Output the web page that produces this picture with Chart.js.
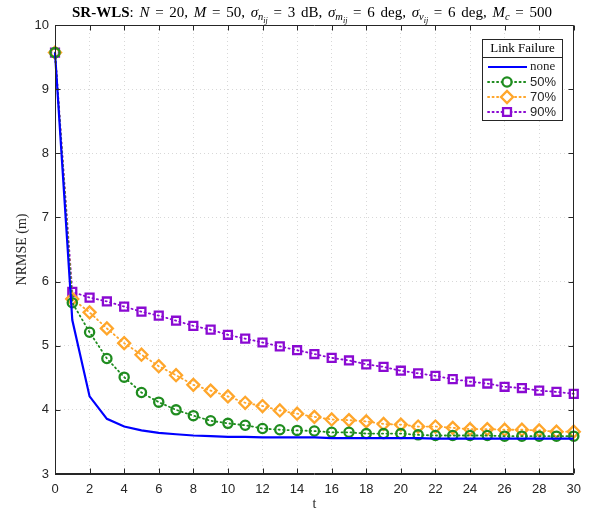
<!DOCTYPE html>
<html><head><meta charset="utf-8">
<script src="https://cdn.jsdelivr.net/npm/chart.js@4.4.1/dist/chart.umd.min.js"></script>
<style>html,body{margin:0;padding:0;background:#fff}canvas{display:block}</style>
</head><body>
<canvas id="c" width="589" height="510"></canvas>
<script>
// ---- data ----
const tValues = [0,1,2,3,4,5,6,7,8,9,10,11,12,13,14,15,16,17,18,19,20,21,22,23,24,25,26,27,28,29,30];
const noneValues = [9.57,5.40,4.21,3.86,3.74,3.68,3.64,3.62,3.60,3.59,3.58,3.58,3.57,3.57,3.57,3.57,3.56,3.56,3.56,3.56,3.56,3.56,3.55,3.55,3.55,3.55,3.55,3.55,3.55,3.55,3.55];
const fail50Values = [9.57,5.67,5.21,4.80,4.51,4.27,4.12,4.00,3.91,3.83,3.79,3.76,3.71,3.69,3.68,3.67,3.65,3.65,3.63,3.63,3.63,3.61,3.60,3.60,3.60,3.60,3.59,3.59,3.59,3.59,3.59];
const fail70Values = [9.57,5.73,5.52,5.27,5.04,4.86,4.68,4.54,4.39,4.30,4.21,4.11,4.06,3.99,3.94,3.89,3.85,3.84,3.82,3.78,3.77,3.74,3.74,3.72,3.70,3.70,3.69,3.69,3.68,3.66,3.66];
const fail90Values = [9.57,5.84,5.75,5.69,5.61,5.53,5.47,5.39,5.31,5.25,5.17,5.11,5.05,4.99,4.93,4.87,4.81,4.77,4.71,4.67,4.61,4.57,4.53,4.48,4.44,4.41,4.36,4.34,4.30,4.28,4.25];
const seriesLabels = ['none','50%','70%','90%'];
const xTickValues = [0,2,4,6,8,10,12,14,16,18,20,22,24,26,28,30];
const yTickValues = [3,4,5,6,7,8,9,10];
const legendTitle = 'Link Failure';
const xAxisTitle = 't';
const yAxisTitle = 'NRMSE (m)';

const SERIF = '"Liberation Serif","DejaVu Serif",serif';
const SANS = '"Liberation Sans",Arial,sans-serif';
const AXIS = '#262626';

function pts(vals){ return tValues.map((t,i)=>({x:t,y:vals[i]})); }

const dotted = {borderDash:[1.2,3.3], borderWidth:1.8, borderCapStyle:'round', pointBorderWidth:2.3, pointBackgroundColor:'rgba(0,0,0,0)', clip:false, tension:0};

const datasets = [
  {label:seriesLabels[0], data:pts(noneValues), borderColor:'#0000ff', borderWidth:2.2, pointRadius:0, clip:false, tension:0},
  Object.assign({label:seriesLabels[1], data:pts(fail50Values), borderColor:'#1f8c1f', pointBorderColor:'#1f8c1f', pointStyle:'circle', pointRadius:4.6}, dotted),
  Object.assign({label:seriesLabels[2], data:pts(fail70Values), borderColor:'#ffa62b', pointBorderColor:'#ffa62b', pointStyle:'rectRot', pointRadius:6}, dotted),
  Object.assign({label:seriesLabels[3], data:pts(fail90Values), borderColor:'#8a0ad2', pointBorderColor:'#8a0ad2', pointStyle:'rect', pointRadius:5.6}, dotted)
];

const titlePlugin = {
  id:'mtitle',
  afterDraw(chart){
    const ctx = chart.ctx;
    const B = 15, S = 10.5, SS = 8;
    const segs = [
      ['SR-WLS','bold',B,0], [': ','',B,0], ['N','italic',B,0], [' = 20, ','',B,0],
      ['M','italic',B,0], [' = 50, ','',B,0],
      ['σ','italic',B,0], ['n','italic',S,3], ['ij','italic',SS,5.5], [' = 3 dB, ','',B,0],
      ['σ','italic',B,0], ['m','italic',S,3], ['ij','italic',SS,5.5], [' = 6 deg, ','',B,0],
      ['σ','italic',B,0], ['v','italic',S,3], ['ij','italic',SS,5.5], [' = 6 deg, ','',B,0],
      ['M','italic',B,0], ['c','italic',S,3], [' = 500','',B,0]
    ];
    ctx.save();
    ctx.fillStyle = '#000';
    ctx.textBaseline = 'alphabetic';
    ctx.textAlign = 'left';
    // split into tokens so spaces can be widened to match LaTeX spacing
    const toks = [];
    segs.forEach(s=>{ s[0].split(/( )/).forEach(p=>{ if(p!=='') toks.push([p,s[1],s[2],s[3]]); }); });
    let total = 0, nsp = 0;
    const widths = toks.map(s=>{ ctx.font = `${s[1]} ${s[2]}px ${SERIF}`; const w = ctx.measureText(s[0]).width; total += w; if(s[0]===' ') nsp++; return w; });
    const target = 480;
    const extra = nsp ? Math.max(0,(target-total)/nsp) : 0;
    let x = 312 - (total + extra*nsp)/2;
    const base = 17;
    toks.forEach((s,i)=>{ ctx.font = `${s[1]} ${s[2]}px ${SERIF}`; if(s[0]!==' ') ctx.fillText(s[0], x, base + s[3]); x += widths[i] + (s[0]===' '?extra:0); });
    ctx.restore();
  }
};

const boxPlugin = {
  id:'box',
  afterDatasetsDraw(chart){
    const ctx = chart.ctx, ca = chart.chartArea;
    const xs = chart.scales.x, ys = chart.scales.y;
    ctx.save();
    ctx.strokeStyle = AXIS; ctx.lineWidth = 1;
    const L = Math.round(ca.left)+0.5, R = Math.round(ca.right)-0.5, T = Math.round(ca.top)+0.5, Bt = Math.round(ca.bottom)-0.5;
    ctx.beginPath();
    ctx.moveTo(L,T); ctx.lineTo(R,T); ctx.lineTo(R,Bt); ctx.lineTo(L,Bt); ctx.closePath();
    const tl = 5;
    xTickValues.forEach(v=>{ const px = Math.round(xs.getPixelForValue(v))+0.5; ctx.moveTo(px,Bt); ctx.lineTo(px,Bt-tl); ctx.moveTo(px,T); ctx.lineTo(px,T+tl); });
    yTickValues.forEach(v=>{ const py = Math.round(ys.getPixelForValue(v))+0.5; ctx.moveTo(L,py); ctx.lineTo(L+tl,py); ctx.moveTo(R,py); ctx.lineTo(R-tl,py); });
    ctx.stroke();
    ctx.restore();
  }
};

const legendPlugin = {
  id:'mlegend',
  afterDraw(chart){
    const ctx = chart.ctx;
    const left = 482.5, right = 562.5, top = 39.5, bottom = 120.5, sep = 57.5;
    ctx.save();
    ctx.fillStyle = '#fff'; ctx.fillRect(left, top, right-left, bottom-top);
    ctx.strokeStyle = AXIS; ctx.lineWidth = 1;
    ctx.strokeRect(left, top, right-left, bottom-top);
    ctx.beginPath(); ctx.moveTo(left, sep); ctx.lineTo(right, sep); ctx.stroke();
    ctx.fillStyle = '#000'; ctx.textAlign = 'center'; ctx.textBaseline = 'middle';
    ctx.font = `13px ${SERIF}`;
    ctx.fillText(legendTitle, (left+right)/2, 49);
    const rows = [67, 82, 97, 112];
    chart.data.datasets.forEach((ds,i)=>{
      const y = rows[i];
      ctx.save();
      ctx.strokeStyle = ds.borderColor; ctx.lineWidth = ds.borderWidth; ctx.lineCap = ds.borderCapStyle || 'butt';
      ctx.setLineDash(ds.borderDash || []);
      ctx.beginPath(); ctx.moveTo(488, y); ctx.lineTo(527, y); ctx.stroke();
      ctx.setLineDash([]);
      if (ds.pointRadius > 0) {
        ctx.fillStyle = '#fff';
        ctx.strokeStyle = ds.pointBorderColor; ctx.lineWidth = ds.pointBorderWidth;
        Chart.helpers.drawPoint(ctx, {pointStyle: ds.pointStyle, radius: ds.pointRadius, borderWidth: ds.pointBorderWidth, rotation:0}, 507, y);
      }
      ctx.restore();
      ctx.fillStyle = '#262626'; ctx.textAlign = 'left'; ctx.textBaseline = 'middle';
      ctx.font = i === 0 ? `13px ${SERIF}` : `13px ${SANS}`;
      ctx.fillText(ds.label, 530, y);
    });
    ctx.restore();
  }
};

new Chart(document.getElementById('c'), {
  type:'line',
  data:{ datasets },
  options:{
    responsive:false, animation:false, devicePixelRatio:1,
    layout:{ padding:{left:0, top:25, right:15, bottom:0} },
    plugins:{ legend:{display:false}, title:{display:false}, tooltip:{enabled:false} },
    scales:{
      x:{
        type:'linear', min:0, max:30,
        afterBuildTicks(s){ s.ticks = xTickValues.map(v=>({value:v})); },
        afterFit(s){ s.height = 36; },
        ticks:{ font:{family:SANS, size:13}, color:AXIS, padding:8, maxRotation:0, autoSkip:false },
        grid:{ color:'#d8d8d8', lineWidth:1, drawTicks:false },
        border:{ display:true, color:AXIS, width:1, dash:[1,3] },
        title:{ display:true, text:xAxisTitle, font:{family:SERIF, size:14, lineHeight:1}, color:AXIS, padding:{top:0, bottom:-1} }
      },
      y:{
        type:'linear', min:3, max:10,
        afterBuildTicks(s){ s.ticks = yTickValues.map(v=>({value:v})); },
        afterFit(s){ s.width = 55; },
        ticks:{ font:{family:SANS, size:13}, color:AXIS, padding:6 },
        grid:{ color:'#d8d8d8', lineWidth:1, drawTicks:false },
        border:{ display:true, color:AXIS, width:1, dash:[1,3] },
        title:{ display:true, text:yAxisTitle, font:{family:SERIF, size:14, lineHeight:1}, color:AXIS, padding:{top:15, bottom:0} }
      }
    }
  },
  plugins:[boxPlugin, titlePlugin, legendPlugin]
});
</script>
</body></html>
